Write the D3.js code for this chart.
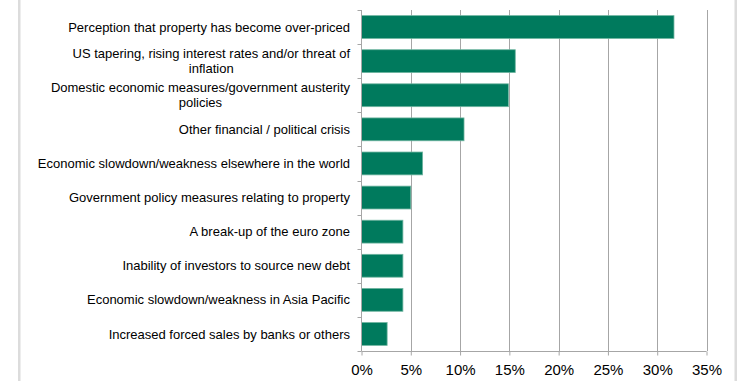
<!DOCTYPE html>
<html>
<head>
<meta charset="utf-8">
<script src="https://cdn.jsdelivr.net/npm/d3@7"></script>
<style>
  html, body { margin: 0; padding: 0; background: #fff; }
  svg { display: block; }
</style>
</head>
<body>
<svg id="chart" width="747" height="381"></svg>
<script>
// Concerns ranked by share of respondents
const categories = [
  "Perception that property has become over-priced",
  "US tapering, rising interest rates and/or threat of inflation",
  "Domestic economic measures/government austerity policies",
  "Other financial / political crisis",
  "Economic slowdown/weakness elsewhere in the world",
  "Government policy measures relating to property",
  "A break-up of the euro zone",
  "Inability of investors to source new debt",
  "Economic slowdown/weakness in Asia Pacific",
  "Increased forced sales by banks or others"
];
// Label lines (wrapped where the label spills onto two rows)
const labelLines = [
  ["Perception that property has become over-priced"],
  ["US tapering, rising interest rates and/or threat of", "inflation"],
  ["Domestic economic measures/government austerity", "policies"],
  ["Other financial / political crisis"],
  ["Economic slowdown/weakness elsewhere in the world"],
  ["Government policy measures relating to property"],
  ["A break-up of the euro zone"],
  ["Inability of investors to source new debt"],
  ["Economic slowdown/weakness in Asia Pacific"],
  ["Increased forced sales by banks or others"]
];
const values = [31.7, 15.6, 14.9, 10.4, 6.2, 5.0, 4.2, 4.2, 4.2, 2.6];
const xTicks = [0, 5, 10, 15, 20, 25, 30, 35];

const svg = d3.select("#chart");
const margin = { left: 361.5, right: 40.5, top: 10, bottom: 30 };
const W = 747, H = 381;

// Outer frame edges
svg.append("rect").attr("x", 18).attr("y", 0).attr("width", 2.5).attr("height", H).attr("fill", "#dcdcdc");
svg.append("rect").attr("x", 734.5).attr("y", 0).attr("width", 2.5).attr("height", H).attr("fill", "#dcdcdc");

const x = d3.scaleLinear().domain([0, 35]).range([margin.left, W - margin.right]);
const y = d3.scaleBand().domain(categories).range([margin.top, H - margin.bottom]).paddingInner(0.33).paddingOuter(0.165);

// Vertical gridlines
svg.append("g")
  .selectAll("line")
  .data(xTicks.slice(1))
  .join("line")
  .attr("x1", d => Math.round(x(d)) + 0.5)
  .attr("x2", d => Math.round(x(d)) + 0.5)
  .attr("y1", margin.top)
  .attr("y2", H - margin.bottom)
  .attr("stroke", "#a6a6a6")
  .attr("stroke-width", 1);

// Bars
svg.append("g")
  .selectAll("rect")
  .data(values)
  .join("rect")
  .attr("x", x(0))
  .attr("y", (d, i) => y(categories[i]))
  .attr("width", d => x(d) - x(0))
  .attr("height", y.bandwidth())
  .attr("fill", "#007a5d")
  .attr("stroke", "#6fb5a0")
  .attr("stroke-width", 0.8);

// Bottom axis
const xAxis = d3.axisBottom(x)
  .tickValues(xTicks)
  .tickFormat(d => d + "%")
  .tickSize(4)
  .tickPadding(9);
const gx = svg.append("g")
  .attr("transform", `translate(0,${H - margin.bottom + 0.5})`)
  .call(xAxis);
gx.select(".domain").attr("stroke", "#a6a6a6").attr("d", `M${x(0)},0H${x(35)}`);
gx.selectAll(".tick line").attr("stroke", "#a6a6a6");
gx.selectAll(".tick text")
  .attr("fill", "#000")
  .style("font-family", "'Liberation Sans', Arial, sans-serif")
  .style("font-size", "15px");

// Left axis: boundary ticks between categories
const step = y.step();
const bounds = d3.range(categories.length + 1).map(i => margin.top + i * step);
const gy = svg.append("g");
gy.append("line")
  .attr("x1", margin.left).attr("x2", margin.left)
  .attr("y1", margin.top).attr("y2", H - margin.bottom)
  .attr("stroke", "#a6a6a6");
gy.selectAll("line.tk")
  .data(bounds)
  .join("line")
  .attr("class", "tk")
  .attr("x1", margin.left - 4).attr("x2", margin.left)
  .attr("y1", d => Math.round(d) + 0.5).attr("y2", d => Math.round(d) + 0.5)
  .attr("stroke", "#a6a6a6");

// Category labels: block right-aligned, wrapped lines centred on each other
const labelRight = 350;
const lineH = 15;
const labels = svg.append("g")
  .style("font-family", "'Liberation Sans', Arial, sans-serif")
  .style("font-size", "13px")
  .attr("fill", "#000");

labelLines.forEach((lines, i) => {
  const cy = y(categories[i]) + y.bandwidth() / 2;
  const g = labels.append("g");
  const texts = lines.map((t, j) => g.append("text")
    .attr("y", cy + (j - (lines.length - 1) / 2) * lineH)
    .attr("dy", "0.35em")
    .attr("text-anchor", "middle")
    .text(t));
  const widths = texts.map(t => t.node().getComputedTextLength());
  const maxW = d3.max(widths);
  const cx = labelRight - maxW / 2;
  texts.forEach(t => t.attr("x", cx));
});
</script>
</body>
</html>
